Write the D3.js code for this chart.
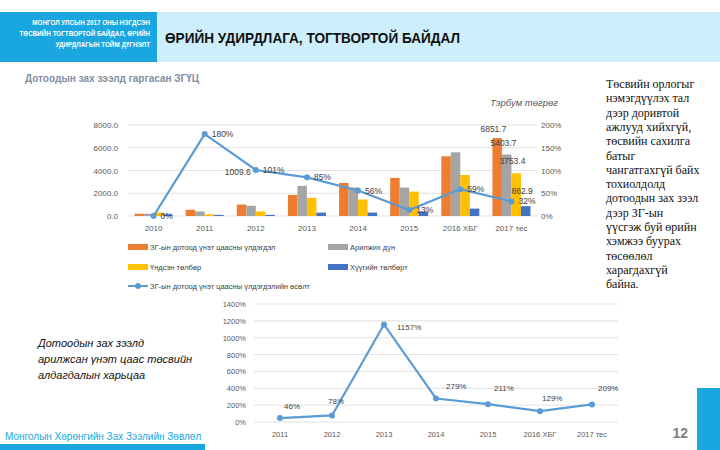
<!DOCTYPE html>
<html><head><meta charset="utf-8">
<script src="https://cdn.jsdelivr.net/npm/d3@7"></script>
<style>body{margin:0;background:#fff}text{font-family:"Liberation Sans",Arial,sans-serif}</style>
</head><body><svg id="c" width="720" height="450"></svg>
<script>
// Top chart data
const years = ["2010","2011","2012","2013","2014","2015","2016 ХБГ","2017 тес"];
const outstanding = [200, 550, 1009.6, 1850, 2900, 3350, 5250, 6851.7];
const traded = [200, 400, 900, 2650, 2500, 2500, 5600, 5403.7];
const principal = [300, 150, 400, 1600, 1450, 2150, 3600, 3753.4];
const interest = [150, 100, 100, 300, 300, 400, 650, 862.9];
const growth = [0, 180, 101, 85, 56, 13, 59, 32];
const seriesNames = ["ЗГ-ын дотоод үнэт цаасны үлдэгдэл","Арилжих дүн","Үндсэн төлбөр","Хүүгийн төлбөрт"];
const colors = ["#ed7d31","#a5a5a5","#ffc000","#4472c4"];
// Bottom chart data
const years2 = ["2011","2012","2013","2014","2015","2016 ХБГ","2017 тес"];
const ratio = [46, 78, 1157, 279, 211, 129, 209];

const svg = d3.select("#c");
const grid = "#d9d9d9", axisTxt = "#595959", lineC = "#5b9bd5";

// Header
svg.append("rect").attr("x",0).attr("y",12).attr("width",157).attr("height",50).attr("fill","#1aa7e0");
svg.append("rect").attr("x",157).attr("y",12).attr("width",563).attr("height",50).attr("fill","#cdeefb");
["МОНГОЛ УЛСЫН 2017 ОНЫ НЭГДСЭН","ТӨСВИЙН  ТОГТВОРТОЙ БАЙДАЛ, ӨРИЙН","УДИРДЛАГЫН ТОЙМ ДҮГНЭЛТ"].forEach((t,i)=>
  svg.append("text").attr("x",150).attr("y",25+i*11).attr("text-anchor","end").attr("font-size",6.3).attr("font-weight","bold").attr("fill","#fff").text(t));
svg.append("text").attr("x",165).attr("y",43).attr("font-size",15).attr("font-weight","bold").attr("fill","#111")
  .attr("textLength",295).attr("lengthAdjust","spacingAndGlyphs").text("ӨРИЙН УДИРДЛАГА, ТОГТВОРТОЙ БАЙДАЛ");

svg.append("text").attr("x",25).attr("y",82).attr("font-size",10).attr("font-weight","bold").attr("fill","#7f8ea3").text("Дотоодын зах зээлд гаргасан ЗГҮЦ");
svg.append("text").attr("x",490).attr("y",106).attr("font-size",9.5).attr("font-style","italic").attr("fill","#595959").text("Тэрбум төгрөг");

// Top chart
const x = d3.scaleBand().domain(years).range([128,537]);
const y = d3.scaleLinear().domain([0,8000]).range([216,125]);
const y2 = d3.scaleLinear().domain([0,2]).range([216,125]);
const g = svg.append("g");
g.selectAll(".gl").data(y.ticks(4)).join("line").attr("x1",128).attr("x2",537)
  .attr("y1",d=>y(d)).attr("y2",d=>y(d)).attr("stroke",grid).attr("stroke-width",0.8);
g.selectAll(".yl").data(y.ticks(4)).join("text").attr("x",118).attr("y",d=>y(d)+3).attr("text-anchor","end")
  .attr("font-size",8).attr("fill",axisTxt).text(d=>d.toFixed(1));
g.selectAll(".yr").data(y2.ticks(4)).join("text").attr("x",541).attr("y",d=>y2(d)+3)
  .attr("font-size",8).attr("fill",axisTxt).text(d=>Math.round(d*100)+"%");
g.selectAll(".xl").data(years).join("text").attr("x",d=>x(d)+x.bandwidth()/2).attr("y",231).attr("text-anchor","middle")
  .attr("font-size",8).attr("fill",axisTxt).text(d=>d);
const series = [outstanding, traded, principal, interest];
const bw = 9.5, off = [-19,-9.5,0,9.5];
series.forEach((s,si)=>{
  g.selectAll(".b"+si).data(s).join("rect")
    .attr("x",(d,i)=>x(years[i])+x.bandwidth()/2+off[si]).attr("width",bw)
    .attr("y",d=>y(d)).attr("height",d=>216-y(d)).attr("fill",colors[si]);
});
const cx = i=>x(years[i])+x.bandwidth()/2;
[["1009.6",2,outstanding[2],-31,-30],["6851.7",7,outstanding[7],-31,-6],["5403.7",7,traded[7],-21,-9],
 ["3753.4",7,principal[7],-12,-9],["862.9",7,interest[7],0,-12]].forEach(a=>
  g.append("text").attr("x",cx(a[1])+a[3]).attr("y",y(a[2])+a[4]).attr("font-size",8.5).attr("fill","#404040").text(a[0]));
const line = d3.line().x((d,i)=>cx(i)).y(d=>y2(d/100));
g.append("path").attr("d",line(growth)).attr("fill","none").attr("stroke",lineC).attr("stroke-width",2.2);
g.selectAll(".pt").data(growth).join("circle").attr("cx",(d,i)=>cx(i)).attr("cy",d=>y2(d/100)).attr("r",3).attr("fill",lineC);
g.selectAll(".gt").data(growth).join("text").attr("x",(d,i)=>cx(i)+7).attr("y",d=>y2(d/100)+3)
  .attr("font-size",8.5).attr("fill","#404040").text(d=>d+"%");
// Legend
const leg = [[128,248],[328,248],[128,268],[328,268]];
seriesNames.forEach((n,i)=>{
  svg.append("rect").attr("x",leg[i][0]).attr("y",leg[i][1]-4).attr("width",20).attr("height",6).attr("fill",colors[i]);
  svg.append("text").attr("x",leg[i][0]+22).attr("y",leg[i][1]+2).attr("font-size",7.5).attr("fill","#404040").text(n);
});
svg.append("line").attr("x1",128).attr("x2",148).attr("y1",286).attr("y2",286).attr("stroke",lineC).attr("stroke-width",2);
svg.append("circle").attr("cx",138).attr("cy",286).attr("r",3).attr("fill",lineC);
svg.append("text").attr("x",150).attr("y",289).attr("font-size",7.5).attr("fill","#404040").text("ЗГ-ын дотоод үнэт цаасны үлдэгдэлийн өсөлт");

// Right text
["Төсвийн орлогыг","нэмэгдүүлэх тал","дээр доривтой","ажлууд хийхгүй,","төсвийн сахилга","батыг","чангатгахгүй байх","тохиолдолд","дотоодын зах зээл","дээр ЗГ-ын","үүсгэж буй өрийн","хэмжээ буурах","төсөөлөл","харагдахгүй","байна."]
 .forEach((t,i)=>svg.append("text").style("font-family","'Liberation Serif','DejaVu Serif',serif")
   .attr("x",606).attr("y",88+i*14.3).attr("font-size",12).attr("fill","#111").text(t));

// Bottom chart
const xb = d3.scaleBand().domain(years2).range([254,618]);
const yb = d3.scaleLinear().domain([0,1400]).range([422,304]);
const gb = svg.append("g");
gb.selectAll("line").data(yb.ticks(7)).join("line").attr("x1",254).attr("x2",618)
  .attr("y1",d=>yb(d)).attr("y2",d=>yb(d)).attr("stroke",grid).attr("stroke-width",0.8);
gb.selectAll(".yl").data(yb.ticks(7)).join("text").attr("x",246).attr("y",d=>yb(d)+3).attr("text-anchor","end")
  .attr("font-size",7.5).attr("fill",axisTxt).text(d=>d+"%");
gb.selectAll(".xl").data(years2).join("text").attr("x",d=>xb(d)+xb.bandwidth()/2).attr("y",437).attr("text-anchor","middle")
  .attr("font-size",7.5).attr("fill",axisTxt).text(d=>d);
const cb = i=>xb(years2[i])+xb.bandwidth()/2;
gb.append("path").attr("d",d3.line().x((d,i)=>cb(i)).y(d=>yb(d))(ratio)).attr("fill","none").attr("stroke",lineC).attr("stroke-width",2.2);
gb.selectAll("circle").data(ratio).join("circle").attr("cx",(d,i)=>cb(i)).attr("cy",d=>yb(d)).attr("r",3).attr("fill",lineC);
const boff = [[4,-9],[-4,-11],[13,6],[10,-9],[6,-13],[2,-10],[6,-13]];
gb.selectAll(".rt").data(ratio).join("text").attr("x",(d,i)=>cb(i)+boff[i][0]).attr("y",(d,i)=>yb(d)+boff[i][1])
  .attr("font-size",8).attr("fill","#404040").text(d=>d+"%");

["Дотоодын зах зээлд","арилжсан үнэт цаас төсвийн","алдагдалын харьцаа"].forEach((t,i)=>
  svg.append("text").attr("x",38).attr("y",347+i*16).attr("font-size",11).attr("font-style","italic").attr("fill","#111").text(t));

// Footer
svg.append("text").attr("x",5).attr("y",440).attr("font-size",10).attr("fill","#1aa7e0").text("Монголын Хөрөнгийн Зах Зээлийн Зөвлөл");
svg.append("rect").attr("x",0).attr("y",444).attr("width",205).attr("height",6).attr("fill","#1aa7e0");
svg.append("rect").attr("x",697).attr("y",388).attr("width",23).attr("height",62).attr("fill","#1aa7e0");
svg.append("text").attr("x",688).attr("y",438).attr("text-anchor","end").attr("font-size",14).attr("font-weight","bold").attr("fill","#7f7f7f").text("12");
</script></body></html>
